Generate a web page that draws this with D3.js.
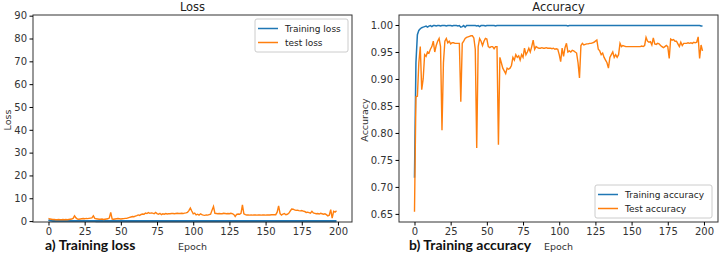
<!DOCTYPE html>
<html>
<head>
<meta charset="utf-8">
<script src="https://cdn.jsdelivr.net/npm/d3@7"></script>
<style>
body{margin:0;background:#fff;}
svg{display:block;}
</style>
</head>
<body>
<script>
var svg_width=720;
var svg_height=256;

// epochs 0..199
var epochs=d3.range(200);

var train_loss=[
0.45,0.25,0.16,0.12,0.10,0.09,0.08,0.07,0.07,0.06,
0.06,0.05,0.05,0.05,0.05,0.04,0.04,0.04,0.04,0.04,
0.04,0.03,0.03,0.03,0.03,0.03,0.03,0.03,0.03,0.03,
0.03,0.03,0.03,0.02,0.02,0.02,0.02,0.02,0.02,0.02,
0.02,0.02,0.02,0.02,0.02,0.02,0.02,0.02,0.02,0.02,
0.02,0.02,0.02,0.02,0.02,0.02,0.02,0.02,0.02,0.02,
0.02,0.02,0.02,0.02,0.02,0.02,0.02,0.02,0.02,0.02,
0.02,0.02,0.02,0.02,0.02,0.02,0.02,0.02,0.02,0.02,
0.02,0.02,0.02,0.02,0.02,0.02,0.02,0.02,0.02,0.02,
0.02,0.02,0.02,0.02,0.02,0.02,0.02,0.02,0.02,0.02,
0.02,0.02,0.02,0.02,0.02,0.02,0.02,0.02,0.02,0.02,
0.02,0.02,0.02,0.02,0.02,0.02,0.02,0.02,0.02,0.02,
0.02,0.02,0.02,0.02,0.02,0.02,0.02,0.02,0.02,0.02,
0.02,0.02,0.02,0.02,0.02,0.02,0.02,0.02,0.02,0.02,
0.02,0.02,0.02,0.02,0.02,0.02,0.02,0.02,0.02,0.02,
0.02,0.02,0.02,0.02,0.02,0.02,0.02,0.02,0.02,0.02,
0.02,0.02,0.02,0.02,0.02,0.02,0.02,0.02,0.02,0.02,
0.02,0.02,0.02,0.02,0.02,0.02,0.02,0.02,0.02,0.02,
0.02,0.02,0.02,0.02,0.02,0.02,0.02,0.02,0.02,0.02,
0.02,0.02,0.02,0.02,0.02,0.02,0.02,0.02,0.02,0.02];

var test_loss=[
1.2,0.9,0.8,0.7,0.7,0.6,0.6,0.7,0.6,0.6,
0.7,0.6,0.7,0.6,0.7,0.8,0.9,1.2,2.3,1.4,
0.9,0.8,0.9,1.0,1.1,1.0,1.2,1.1,1.2,1.3,
1.4,2.3,1.2,1.0,0.9,0.8,0.8,0.9,0.7,0.8,
0.9,1.0,1.3,3.8,0.9,0.8,0.9,1.0,1.1,1.0,
0.9,1.0,1.1,1.2,1.2,1.4,1.6,1.8,2.0,1.9,
2.2,2.4,2.7,2.5,2.9,3.1,3.0,3.5,3.3,3.7,
3.4,3.6,3.5,3.2,3.8,3.3,3.0,3.4,2.8,3.2,
3.0,3.3,3.1,3.2,3.2,3.3,3.3,3.2,3.3,3.4,
3.3,3.3,3.4,3.3,3.5,3.6,3.8,4.6,5.7,4.4,
3.2,3.5,2.7,3.0,2.6,3.2,2.8,2.6,2.5,2.7,
2.6,2.8,3.0,4.8,6.4,3.4,3.3,3.2,3.3,3.2,
3.2,3.4,3.3,3.2,3.3,3.2,3.4,3.3,2.9,2.0,
2.9,3.1,3.0,3.4,7.1,3.2,2.8,2.7,2.7,2.6,
2.7,2.6,2.7,2.7,2.6,2.7,2.7,2.6,2.7,2.7,
2.6,2.7,2.7,2.7,2.8,2.8,2.8,2.8,3.9,6.7,
3.3,2.6,3.1,3.3,2.8,3.0,3.4,4.4,5.3,5.2,
4.9,4.7,4.8,4.6,4.5,4.6,4.4,4.2,3.8,3.9,
3.7,3.5,4.3,3.6,3.4,3.2,3.3,3.1,3.4,3.2,
3.0,3.2,2.8,2.3,2.6,5.0,1.3,4.3,3.9,4.5];

var train_acc=[
0.717,0.930,0.982,0.990,0.993,0.995,0.996,0.997,0.998,0.996,
0.998,0.999,0.997,0.999,0.999,0.998,0.999,0.999,0.998,0.999,
0.999,0.999,0.998,0.999,0.999,0.999,0.998,0.999,0.999,0.999,
0.998,0.999,0.996,0.997,0.999,0.996,0.999,0.999,0.999,0.999,
0.999,0.999,0.999,0.998,0.999,0.997,0.999,0.999,0.999,0.998,
0.999,0.999,0.999,0.999,0.999,0.999,0.998,0.999,0.999,0.999,
0.999,0.999,0.999,0.999,0.999,0.999,0.999,0.999,0.999,0.999,
0.999,0.999,0.999,0.999,0.999,0.999,0.999,0.999,0.999,0.999,
0.999,0.999,0.999,0.999,0.999,0.999,0.999,0.999,0.999,0.999,
0.999,0.999,0.999,0.999,0.999,0.999,0.999,0.999,0.999,0.999,
0.999,0.999,0.999,0.999,0.999,0.999,0.998,0.999,0.999,0.999,
0.999,0.999,0.999,0.999,0.999,0.999,0.999,0.999,0.999,0.999,
0.999,0.999,0.999,0.999,0.999,0.999,0.999,0.999,0.999,0.999,
0.999,0.999,0.999,0.999,0.999,0.999,0.999,0.999,0.999,0.999,
0.999,0.999,0.999,0.999,0.999,0.999,0.999,0.999,0.999,0.999,
0.999,0.999,0.999,0.999,0.999,0.999,0.999,0.999,0.999,0.999,
0.999,0.999,0.999,0.999,0.999,0.999,0.999,0.999,0.999,0.999,
0.999,0.999,0.999,0.999,0.999,0.999,0.999,0.999,0.999,0.999,
0.999,0.999,0.999,0.999,0.999,0.999,0.999,0.999,0.999,0.999,
0.999,0.999,0.999,0.999,0.999,0.999,0.999,0.999,0.998,0.998];

var test_acc=[
0.654,0.867,0.868,0.930,0.960,0.880,0.900,0.945,0.942,0.950,
0.948,0.955,0.960,0.970,0.950,0.962,0.970,0.975,0.960,0.805,
0.930,0.970,0.975,0.967,0.970,0.965,0.967,0.967,0.966,0.966,
0.966,0.966,0.858,0.966,0.970,0.975,0.977,0.978,0.979,0.980,
0.980,0.976,0.955,0.772,0.960,0.975,0.970,0.962,0.970,0.975,
0.974,0.960,0.958,0.960,0.960,0.956,0.960,0.960,0.778,0.940,
0.930,0.920,0.915,0.910,0.920,0.918,0.920,0.925,0.940,0.935,
0.945,0.940,0.943,0.935,0.945,0.940,0.957,0.945,0.950,0.957,
0.950,0.960,0.972,0.955,0.960,0.958,0.957,0.957,0.958,0.957,
0.957,0.958,0.957,0.957,0.957,0.956,0.957,0.955,0.956,0.955,
0.945,0.932,0.957,0.942,0.958,0.966,0.950,0.952,0.950,0.953,
0.952,0.950,0.948,0.930,0.902,0.962,0.966,0.963,0.964,0.965,
0.965,0.966,0.966,0.967,0.968,0.970,0.972,0.955,0.952,0.945,
0.948,0.940,0.935,0.930,0.920,0.940,0.945,0.950,0.940,0.945,
0.940,0.945,0.966,0.960,0.962,0.961,0.960,0.960,0.960,0.960,
0.960,0.960,0.960,0.960,0.960,0.960,0.960,0.961,0.960,0.962,
0.977,0.970,0.968,0.969,0.963,0.976,0.965,0.964,0.966,0.965,
0.962,0.960,0.958,0.960,0.962,0.960,0.938,0.974,0.972,0.973,
0.970,0.970,0.965,0.960,0.968,0.962,0.966,0.966,0.966,0.967,
0.966,0.967,0.966,0.968,0.967,0.968,0.978,0.938,0.963,0.952];

var x_ticks=[0,25,50,75,100,125,150,175,200];
var loss_ticks=[0,10,20,30,40,50,60,70,80,90];
var acc_ticks=[0.65,0.70,0.75,0.80,0.85,0.90,0.95,1.00];

var blue="#1f77b4";
var orange="#ff7f0e";
var tick_font="'DejaVu Sans', sans-serif";

var svg=d3.select("body")
        .append("svg")
        .attr("width",svg_width)
        .attr("height",svg_height);

function drawPanel(opt){
    var x=d3.scaleLinear()
        .domain([-10.7,209.7])
        .range([opt.left,opt.right]);
    var y=d3.scaleLinear()
        .domain(opt.ydomain)
        .range([222,15]);

    var g=svg.append("g");

    var line1=d3.line()
        .x(function (d,i) { return x(epochs[i]); })
        .y(function (d) { return y(d); });

    g.append("path")
        .datum(opt.s1)
        .attr("d",line1)
        .attr("fill","none")
        .attr("stroke",blue)
        .attr("stroke-width",opt.w1);
    g.append("path")
        .datum(opt.s2)
        .attr("d",line1)
        .attr("fill","none")
        .attr("stroke",orange)
        .attr("stroke-width",1.4);

    // frame
    g.append("rect")
        .attr("x",opt.left)
        .attr("y",15)
        .attr("width",opt.right-opt.left)
        .attr("height",207)
        .attr("fill","none")
        .attr("stroke","#333")
        .attr("stroke-width",1);

    var xAxis=d3.axisBottom(x)
        .tickValues(x_ticks)
        .tickSize(3.5)
        .tickSizeOuter(0);
    var ax=g.append("g")
        .attr("transform","translate(0,222)")
        .call(xAxis);
    ax.select(".domain").remove();
    ax.selectAll("text")
        .attr("y",6)
        .style("font-family",tick_font)
        .style("font-size","10px")
        .attr("fill","#333");

    var yAxis=d3.axisLeft(y)
        .tickValues(opt.yticks)
        .tickFormat(opt.yfmt)
        .tickSize(3.5)
        .tickSizeOuter(0);
    var ay=g.append("g")
        .attr("transform","translate("+opt.left+",0)")
        .call(yAxis);
    ay.select(".domain").remove();
    ay.selectAll("text")
        .attr("x",-6)
        .style("font-family",tick_font)
        .style("font-size","10px")
        .attr("fill","#333");

    var cx=(opt.left+opt.right)/2;
    g.append("text")
        .text(opt.title)
        .attr("x",cx)
        .attr("y",11)
        .attr("text-anchor","middle")
        .style("font-family",tick_font)
        .style("font-size","11.5px")
        .attr("fill","#222");
    g.append("text")
        .text("Epoch")
        .attr("x",cx)
        .attr("y",250)
        .attr("text-anchor","middle")
        .style("font-family",tick_font)
        .style("font-size","9.5px")
        .attr("fill","#333");
    g.append("text")
        .text(opt.ylabel)
        .attr("transform","translate("+opt.ylx+",120) rotate(-90)")
        .attr("text-anchor","middle")
        .style("font-family",tick_font)
        .style("font-size","9.5px")
        .attr("fill","#333");
    g.append("text")
        .text(opt.caption)
        .attr("x",opt.capx)
        .attr("y",250)
        .style("font-family","Lato, sans-serif")
        .style("font-weight","bold")
        .style("font-size","14px")
        .attr("fill","#111");

    // legend
    var lg=g.append("g").attr("transform","translate("+opt.lx+","+opt.ly+")");
    lg.append("rect")
        .attr("x",0).attr("y",0)
        .attr("width",opt.lw).attr("height",33)
        .attr("rx",2)
        .attr("fill","#fff")
        .attr("stroke","#ccc");
    [[opt.n1,blue],[opt.n2,orange]].forEach(function (d,i) {
        lg.append("line")
            .attr("x1",3).attr("x2",23)
            .attr("y1",9.5+i*14).attr("y2",9.5+i*14)
            .attr("stroke",d[1])
            .attr("stroke-width",1.5);
        lg.append("text")
            .text(d[0])
            .attr("x",30)
            .attr("y",13+i*14)
            .style("font-family",tick_font)
            .style("font-size","9px")
            .attr("fill","#222");
    });
}

drawPanel({
    left:33,right:352,
    ydomain:[-0.4,90.3],
    yticks:loss_ticks,
    yfmt:d3.format("d"),
    s1:train_loss,s2:test_loss,w1:2.2,
    title:"Loss",ylabel:"Loss",ylx:11,
    caption:"a) Training loss",capx:45,
    lx:255,ly:19,lw:93,
    n1:"Training loss",n2:"test loss"
});

drawPanel({
    left:399,right:718,
    ydomain:[0.635,1.0185],
    yticks:acc_ticks,
    yfmt:d3.format(".2f"),
    s1:train_acc,s2:test_acc,w1:1.5,
    title:"Accuracy",ylabel:"Accuracy",ylx:368,
    caption:"b) Training accuracy",capx:409,
    lx:595,ly:185,lw:117,
    n1:"Training accuracy",n2:"Test accuracy"
});
</script>
</body>
</html>
